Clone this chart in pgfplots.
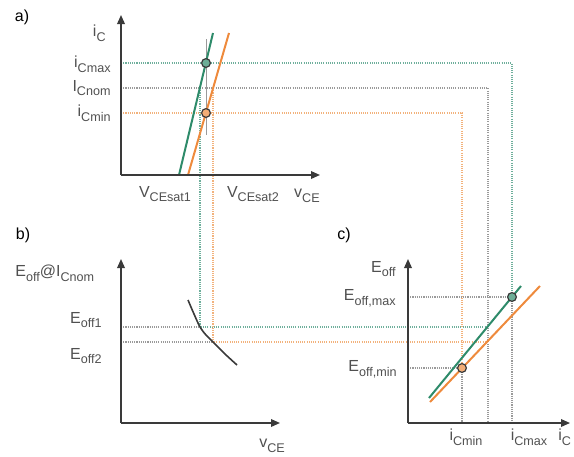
\documentclass[border=0pt]{standalone}
\usepackage{fontspec}
\setmainfont{Liberation Sans}
\usepackage{pgfplots}
\pgfplotsset{compat=1.18}
\usetikzlibrary{arrows.meta}
\definecolor{grn}{HTML}{2E8B6A}
\definecolor{org}{HTML}{EE8A3C}
\definecolor{grnd}{HTML}{6FAF9C}
\definecolor{orgd}{HTML}{F2B27C}
\definecolor{gryd}{HTML}{9A9A9A}
\definecolor{txt}{HTML}{505050}
\definecolor{axc}{HTML}{3A3A3A}
\newcommand{\sub}[1]{\raisebox{-0.55ex}{\fontsize{6.3}{7}\selectfont #1}}
\tikzset{lbl/.style={font=\fontsize{8}{9}\selectfont, text=txt, inner sep=0pt},
  dot/.style={line width=0.75pt, dash pattern=on 0.55pt off 0.55pt},
  axl/.style={axc, line width=0.75pt, -{Triangle[length=4.5pt,width=3.8pt]}}}
\begin{document}
\begin{tikzpicture}
\begin{axis}[width=287pt,height=228pt,scale only axis,xmin=0,xmax=574,ymin=0,ymax=456,
  y dir=reverse,hide axis,clip=false]
% thin grey vertical through circles in a)
\addplot[gryd, line width=0.5pt] coordinates {(206,39) (206,135)};
% dotted projection lines from a)
\addplot[grnd,dot] coordinates {(121,63) (512,63) (512,292)};
\addplot[gryd,dot] coordinates {(121,88) (488,88) (488,423)};
\addplot[orgd,dot] coordinates {(121,113) (462,113) (462,365)};
\addplot[grnd,dot] coordinates {(200,88) (200,327) (487,327)};
\addplot[orgd,dot] coordinates {(213,88) (213,342) (486,342)};
% grey dotted in b)
\addplot[gryd,dot] coordinates {(121,327) (200,327)};
\addplot[gryd,dot] coordinates {(121,342) (213,342)};
% grey dotted in c)
\addplot[gryd,dot] coordinates {(408,297) (508,297)};
\addplot[gryd,dot] coordinates {(408,368) (458,368)};
\addplot[gryd,dot] coordinates {(462,372) (462,423)};
\addplot[gryd,dot] coordinates {(512,301) (512,423)};
% characteristic lines a)
\addplot[grn, line width=1pt] coordinates {(179,175) (213,33)};
\addplot[org, line width=1pt] coordinates {(188,175) (229,33)};
% curve b)
\addplot[axc, line width=0.8pt, smooth] coordinates {(188,300) (194,314) (200,327) (206,335) (213,342) (225,354) (237,365)};
% lines c)
\addplot[grn, line width=1pt] coordinates {(429,398) (521,286)};
\addplot[org, line width=1pt] coordinates {(430,402) (540,286)};
% markers
\addplot[only marks, mark=*, mark size=2.2pt, mark options={draw=axc, fill=grn!70, line width=0.6pt}] coordinates {(206,63) (512,297)};
\addplot[only marks, mark=*, mark size=2.2pt, mark options={draw=axc, fill=org!70, line width=0.6pt}] coordinates {(206,113) (462,368)};
% axes
\addplot[axl] coordinates {(121,175) (121,15)};
\addplot[axl] coordinates {(121,175) (320,175)};
\addplot[axl] coordinates {(121,423) (121,259)};
\addplot[axl] coordinates {(121,423) (280,423)};
\addplot[axl] coordinates {(408,423) (408,259)};
\addplot[axl] coordinates {(408,423) (570,423)};
% labels
\node[lbl,text=black] at (axis cs:22,17) {a)};
\node[lbl,anchor=east] at (axis cs:106,33) {i\sub{C}};
\node[lbl,anchor=east] at (axis cs:111,64) {i\sub{Cmax}};
\node[lbl,anchor=east] at (axis cs:111,88) {I\sub{Cnom}};
\node[lbl,anchor=east] at (axis cs:111,113) {i\sub{Cmin}};
\node[lbl] at (axis cs:165,194) {V\sub{CEsat1}};
\node[lbl] at (axis cs:253,194) {V\sub{CEsat2}};
\node[lbl] at (axis cs:307,196) {v\sub{CE}};
\node[lbl,text=black] at (axis cs:23,235) {b)};
\node[lbl,anchor=west] at (axis cs:15,273) {E\sub{off}@I\sub{Cnom}};
\node[lbl,anchor=east] at (axis cs:102,320) {E\sub{off1}};
\node[lbl,anchor=east] at (axis cs:102,356) {E\sub{off2}};
\node[lbl] at (axis cs:272,446) {v\sub{CE}};
\node[lbl,text=black] at (axis cs:344,235) {c)};
\node[lbl,anchor=east] at (axis cs:396,269) {E\sub{off}};
\node[lbl,anchor=east] at (axis cs:396,298) {E\sub{off,max}};
\node[lbl,anchor=east] at (axis cs:397,369) {E\sub{off,min}};
\node[lbl] at (axis cs:466,437) {i\sub{Cmin}};
\node[lbl] at (axis cs:529,437) {i\sub{Cmax}};
\node[lbl,anchor=west] at (axis cs:558,437) {i\sub{C}};
\end{axis}
\pgfresetboundingbox
\path (current axis.south west) rectangle (current axis.north east);
\end{tikzpicture}
\end{document}
